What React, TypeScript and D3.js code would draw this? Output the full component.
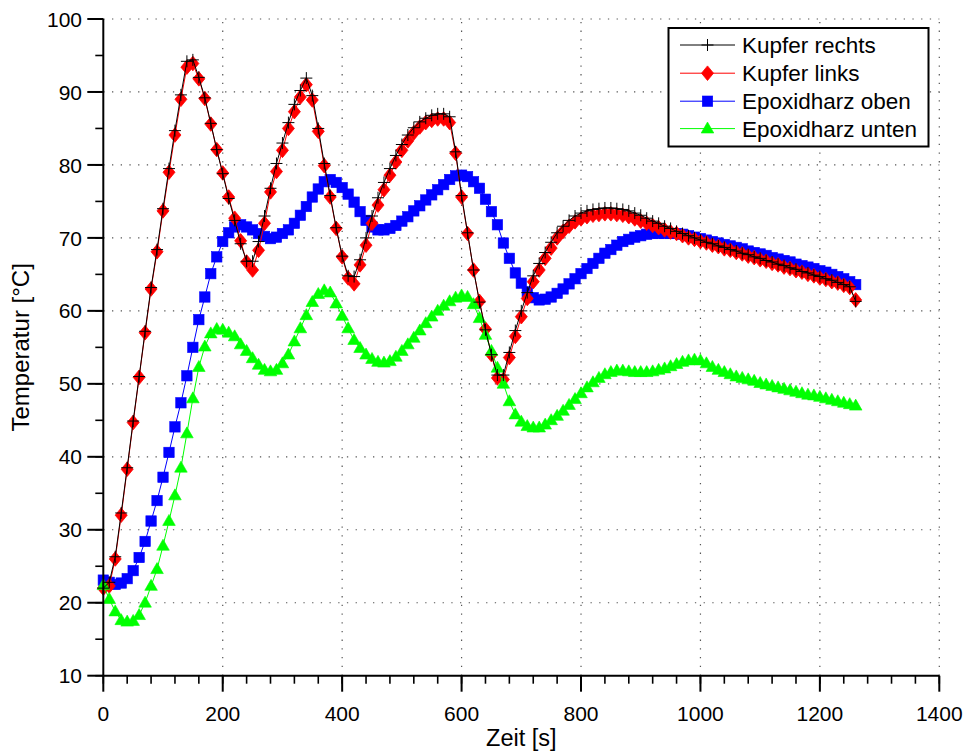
import React from "react";
import * as d3 from "d3";

// sampling: one reading every 10 s, starting at 0 s
const TIME_START = 0;
const TIME_STEP = 10;

const kupferRechts = [
  22.0, 22.8, 26.3, 32.3, 38.5, 44.9, 51.0, 57.2, 63.2, 68.4,
  74.0, 79.5, 84.7, 89.6, 94.2, 94.4, 92.0, 89.2, 85.7, 82.1,
  78.8, 75.4, 72.4, 69.2, 66.8, 66.8, 69.5, 73.0, 76.8, 80.2,
  83.0, 85.8, 88.3, 90.2, 91.9, 89.5, 85.0, 80.2, 75.8, 71.4,
  67.5, 64.8, 64.7, 67.0, 70.0, 73.0, 75.5, 77.6, 79.5, 81.3,
  82.8, 84.1, 85.1, 85.9, 86.4, 86.8, 87.0, 87.0, 86.6, 81.8,
  75.8, 70.7, 65.6, 61.2, 57.4, 54.0, 51.2, 51.2, 54.3, 57.3,
  60.0, 62.5, 64.8, 66.5, 68.0, 69.4, 70.7, 71.6, 72.4, 73.0,
  73.4, 73.7, 73.9, 74.0, 74.1, 74.1, 74.0, 73.9, 73.7, 73.4,
  73.1, 72.7, 72.3, 72.0, 71.6, 71.3, 70.9, 70.6, 70.3, 70.0,
  69.7, 69.4, 69.2, 68.9, 68.7, 68.4, 68.2, 67.9, 67.7, 67.4,
  67.2, 66.9, 66.7, 66.4, 66.2, 65.9, 65.7, 65.4, 65.2, 64.9,
  64.7, 64.4, 64.2, 63.9, 63.6, 63.3, 61.3,
];

const kupferLinks = [
  22.0, 22.3, 26.0, 32.0, 38.3, 44.7, 50.9, 57.0, 63.0, 68.1,
  73.7, 79.0, 84.1, 89.0, 93.4, 93.9, 91.8, 89.1, 85.6, 82.1,
  78.9, 75.6, 72.7, 69.6, 66.7, 65.6, 68.3, 72.0, 76.3, 79.1,
  82.0, 85.0, 87.3, 89.3, 91.0, 88.9, 84.6, 79.9, 75.6, 71.3,
  67.4, 64.5, 63.7, 66.3, 69.0, 72.0, 74.5, 76.6, 78.6, 80.4,
  82.0, 83.3, 84.4, 85.2, 85.8, 86.1, 86.3, 86.3, 85.8, 81.6,
  75.6, 70.6, 65.6, 61.3, 57.5, 54.0, 50.8, 50.6, 53.6, 56.5,
  59.2, 61.7, 64.0, 65.6, 67.2, 68.6, 70.0, 70.9, 71.6, 72.2,
  72.6, 72.9, 73.1, 73.2, 73.3, 73.3, 73.2, 73.1, 72.9, 72.6,
  72.3, 72.0, 71.7, 71.4, 71.1, 70.8, 70.6, 70.3, 70.0, 69.8,
  69.5, 69.3, 69.0, 68.8, 68.5, 68.3, 68.0, 67.8, 67.5, 67.3,
  67.0, 66.8, 66.5, 66.3, 66.0, 65.8, 65.5, 65.3, 65.0, 64.8,
  64.5, 64.3, 64.0, 63.8, 63.5, 63.2, 61.5,
];

const epoxidharzOben = [
  23.1, 22.8, 22.5, 22.7, 23.3, 24.4, 26.2, 28.4, 31.2, 34.0,
  37.2, 40.6, 44.1, 47.4, 51.1, 55.0, 58.8, 61.9, 65.1, 67.4,
  69.5, 70.7, 71.5, 71.8, 71.5, 71.1, 70.6, 70.2, 69.9, 70.1,
  70.6, 71.1, 72.0, 73.1, 74.3, 75.6, 76.7, 77.7, 78.0, 77.6,
  76.9, 76.0, 74.9, 73.6, 72.4, 71.5, 71.1, 71.1, 71.3, 71.7,
  72.3, 72.9, 73.7, 74.4, 75.2, 75.9, 76.6, 77.3, 78.0, 78.5,
  78.6, 78.4, 77.7, 76.8, 75.3, 73.6, 71.8, 69.3, 67.2, 65.2,
  63.8, 62.6, 61.8, 61.5, 61.6, 61.9, 62.4, 63.0, 63.7, 64.4,
  65.1, 65.8, 66.5, 67.2, 67.9, 68.4, 69.0, 69.5, 69.8, 70.1,
  70.3, 70.5, 70.6, 70.6, 70.6, 70.6, 70.6, 70.5, 70.3, 70.1,
  69.9, 69.7, 69.5, 69.3, 69.1, 68.9, 68.7, 68.5, 68.2, 68.0,
  67.8, 67.6, 67.3, 67.1, 66.9, 66.7, 66.4, 66.2, 66.0, 65.8,
  65.5, 65.3, 65.0, 64.7, 64.4, 64.0, 63.6,
];

const epoxidharzUnten = [
  22.4, 20.5, 18.8, 17.6, 17.4, 17.5, 18.3, 20.0, 22.3, 24.6,
  27.8, 31.2, 34.7, 38.5, 43.2, 48.0, 52.3, 55.1, 56.9, 57.5,
  57.4, 57.0, 56.5, 55.4, 54.5, 53.5, 52.6, 51.9, 51.7, 51.9,
  52.8, 54.0, 55.8, 57.6, 59.4, 61.2, 62.3, 62.8, 62.5, 61.0,
  59.3, 57.6, 56.0, 54.9, 54.0, 53.4, 53.0, 52.9, 53.1, 53.7,
  54.5, 55.4, 56.3, 57.3, 58.3, 59.2, 60.0, 60.7, 61.3, 61.8,
  62.1, 61.9, 60.9, 59.0, 56.7, 54.5, 52.2, 50.0, 47.6, 45.8,
  44.8, 44.2, 44.0, 44.0, 44.4, 45.0, 45.6, 46.3, 47.1, 47.9,
  48.7, 49.5, 50.2, 50.8, 51.3, 51.6, 51.8, 51.8, 51.7, 51.6,
  51.6, 51.6, 51.7, 51.9, 52.1, 52.4, 52.7, 53.0, 53.2, 53.3,
  53.2, 52.8, 52.3, 51.9, 51.6, 51.3, 51.0, 50.8, 50.6, 50.4,
  50.1, 49.9, 49.7, 49.5, 49.3, 49.1, 48.9, 48.7, 48.5, 48.4,
  48.2, 48.0, 47.8, 47.6, 47.4, 47.2, 47.0,
];

const seriesNames = ["Kupfer rechts", "Kupfer links", "Epoxidharz oben", "Epoxidharz unten"];
const xTickValues = [0, 200, 400, 600, 800, 1000, 1200, 1400];
const xMinorTickValues = d3.range(0, 1401, 40);
const yTickValues = [10, 20, 30, 40, 50, 60, 70, 80, 90, 100];
const yMinorTickValues = d3.range(10, 101, 5);
const xTitle = "Zeit [s]";
const yTitle = "Temperatur [°C]";

const FONT = "'Liberation Sans', Arial, Helvetica, sans-serif";

type Pt = { t: number; v: number };
const toPoints = (arr: number[]): Pt[] => arr.map((v, i) => ({ t: TIME_START + i * TIME_STEP, v }));

function Marker({ kind, cx, cy }: { kind: string; cx: number; cy: number }) {
  if (kind === "plus") {
    return (
      <path d={`M${cx - 6},${cy}H${cx + 6}M${cx},${cy - 6}V${cy + 6}`} stroke="#000" strokeWidth={1} fill="none" />
    );
  }
  if (kind === "diamond") {
    return (
      <path d={`M${cx},${cy - 7.3}L${cx + 6},${cy}L${cx},${cy + 7.3}L${cx - 6},${cy}Z`} fill="#ff0000" stroke="#ff0000" strokeWidth={0.8} />
    );
  }
  if (kind === "square") {
    return <rect x={cx - 5.2} y={cy - 5.2} width={10.4} height={10.4} fill="#0000ff" stroke="#0000ff" strokeWidth={0.6} />;
  }
  return (
    <path d={`M${cx},${cy - 6.6}L${cx + 6.3},${cy + 4.4}L${cx - 6.3},${cy + 4.4}Z`} fill="#00ff00" stroke="#00ff00" strokeWidth={0.6} />
  );
}

export default function App() {
  const W = 967;
  const H = 751;
  const x = d3.scaleLinear().domain([0, 1400]).range([103.3, 939.3]);
  const y = d3.scaleLinear().domain([10, 100]).range([675.7, 19]);
  const line = d3
    .line<Pt>()
    .x((d) => x(d.t))
    .y((d) => y(d.v));

  const series = [
    { name: seriesNames[0], data: toPoints(kupferRechts), color: "#000000", marker: "plus" },
    { name: seriesNames[1], data: toPoints(kupferLinks), color: "#ff0000", marker: "diamond" },
    { name: seriesNames[2], data: toPoints(epoxidharzOben), color: "#0000ff", marker: "square" },
    { name: seriesNames[3], data: toPoints(epoxidharzUnten), color: "#00ff00", marker: "triangle" },
  ];
  // drawing order (bottom to top)
  const drawOrder = [2, 1, 3, 0];

  const x0 = x(0);
  const x1 = x(1400);
  const y0 = y(10);
  const y1 = y(100);

  const legendX = 668.5;
  const legendY = 28;
  const legendW = 260;
  const legendH = 118.5;
  const rowY = [45, 73.2, 101.2, 128.6];

  return (
    <svg
      width={W}
      height={H}
      viewBox={`0 0 ${W} ${H}`}
      style={{ position: "absolute", left: 0, top: 0, background: "#fff" }}
      fontFamily={FONT}
    >
      <rect x={0} y={0} width={W} height={H} fill="#fff" />
      {/* grid */}
      <g stroke="#555" strokeWidth={1.2} strokeDasharray="1.3,7.4" fill="none">
        {xTickValues
          .filter((t) => t > 0)
          .map((t) => (
            <line key={`gx${t}`} x1={x(t)} x2={x(t)} y1={y0} y2={y1} />
          ))}
        {yTickValues
          .filter((v) => v > 10)
          .map((v) => (
            <line key={`gy${v}`} x1={x0} x2={x1} y1={y(v)} y2={y(v)} />
          ))}
      </g>

      {/* series */}
      {drawOrder.map((si) => {
        const s = series[si];
        return (
          <g key={s.name}>
            <path d={line(s.data) || ""} fill="none" stroke={s.color} strokeWidth={1} />
            {s.data.map((d, i) => (
              <Marker key={i} kind={s.marker} cx={x(d.t)} cy={y(d.v)} />
            ))}
          </g>
        );
      })}

      {/* axes */}
      <g stroke="#000" fill="none">
        <line x1={x0} x2={x1} y1={y0} y2={y0} strokeWidth={2} />
        <line x1={x0} x2={x0} y1={y0} y2={y1} strokeWidth={2} />
        {xMinorTickValues.map((t) => (
          <line key={`xm${t}`} x1={x(t)} x2={x(t)} y1={y0} y2={y0 + 8} strokeWidth={1.6} />
        ))}
        {xTickValues.map((t) => (
          <line key={`xM${t}`} x1={x(t)} x2={x(t)} y1={y0} y2={y0 + 16} strokeWidth={2} />
        ))}
        {yMinorTickValues.map((v) => (
          <line key={`ym${v}`} x1={x0 - 8} x2={x0} y1={y(v)} y2={y(v)} strokeWidth={1.6} />
        ))}
        {yTickValues.map((v) => (
          <line key={`yM${v}`} x1={x0 - 16} x2={x0} y1={y(v)} y2={y(v)} strokeWidth={2} />
        ))}
      </g>
      <g fontSize={21} fill="#000">
        {xTickValues.map((t) => (
          <text key={`xl${t}`} x={x(t)} y={721} textAnchor="middle">
            {t}
          </text>
        ))}
        {yTickValues.map((v) => (
          <text key={`yl${v}`} x={82} y={y(v) + 7.6} textAnchor="end">
            {v}
          </text>
        ))}
      </g>
      <text x={(x0 + x1) / 2} y={746} textAnchor="middle" fontSize={23.5}>
        {xTitle}
      </text>
      <text transform={`translate(29,${(y0 + y1) / 2}) rotate(-90)`} textAnchor="middle" fontSize={24}>
        {yTitle}
      </text>

      {/* legend */}
      <rect x={legendX} y={legendY} width={legendW} height={legendH} fill="#fff" stroke="#000" strokeWidth={2} />
      {series.map((s, i) => (
        <g key={`lg${i}`}>
          <line x1={680} x2={735} y1={rowY[i]} y2={rowY[i]} stroke={s.color} strokeWidth={1} />
          <Marker kind={s.marker} cx={707.5} cy={rowY[i]} />
          <text x={742} y={rowY[i] + 8} fontSize={22.5}>
            {s.name}
          </text>
        </g>
      ))}
    </svg>
  );
}
